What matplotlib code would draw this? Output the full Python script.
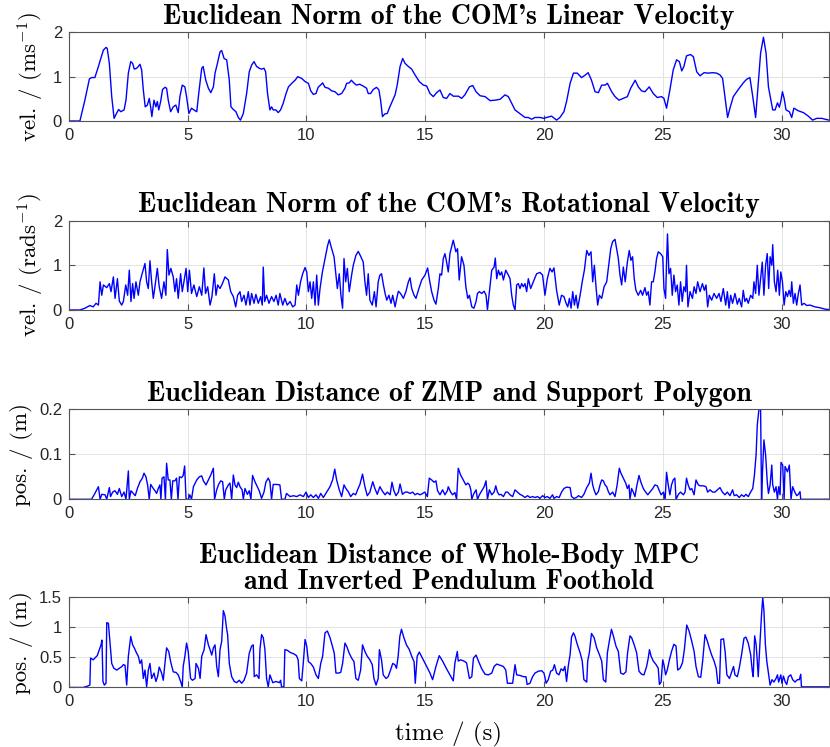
import numpy as np
import matplotlib.pyplot as plt
from matplotlib.ticker import FixedLocator, FormatStrFormatter

# fonts: LaTeX look for titles/labels, Helvetica look for tick labels
plt.rcParams['mathtext.fontset'] = 'cm'
plt.rcParams['axes.unicode_minus'] = False

# Data (time in s, value) -----------------------------------------------

lin_vel = [(0, 0), (0.46, 0), (0.67, 0.47), (0.86, 0.95), (0.95, 0.98), (1.09, 0.98), (1.24, 1.23),
           (1.3, 1.34), (1.45, 1.6), (1.56, 1.66), (1.61, 1.64), (1.7, 1.3), (1.8, 0.55), (1.9, 0.06),
           (2.0, 0.17), (2.09, 0.26), (2.18, 0.21), (2.32, 0.25), (2.4, 0.47), (2.5, 1.08), (2.6, 1.34),
           (2.68, 1.30), (2.75, 1.17), (2.85, 1.19), (2.92, 1.23), (2.99, 1.28), (3.06, 1.15), (3.13, 0.70),
           (3.21, 0.32), (3.3, 0.36), (3.38, 0.51), (3.44, 0.31), (3.49, 0.10), (3.58, 0.47), (3.66, 0.32),
           (3.72, 0.44), (3.78, 0.25), (3.86, 0.44), (3.94, 0.71), (4.04, 0.76), (4.11, 0.74), (4.18, 0.47),
           (4.28, 0.21), (4.39, 0.32), (4.5, 0.36), (4.6, 0.19), (4.67, 0.55), (4.77, 0.81), (4.88, 0.77),
           (4.95, 0.55), (5.05, 0.17), (5.16, 0.29), (5.26, 0.25), (5.38, 0.21), (5.48, 0.70), (5.59, 1.19),
           (5.65, 1.23), (5.76, 0.92), (5.87, 0.74), (5.97, 0.64), (6.08, 0.77), (6.15, 1.08), (6.25, 1.30),
           (6.36, 1.56), (6.43, 1.59), (6.53, 1.41), (6.64, 1.38), (6.75, 0.92), (6.82, 0.32), (6.92, 0.26),
           (7.03, 0.21), (7.13, 0.08), (7.22, 0.02), (7.34, 0.17), (7.48, 0.62), (7.59, 1.11), (7.69, 1.26),
           (7.79, 1.34), (7.9, 1.23), (8.01, 1.19), (8.11, 1.17), (8.21, 1.19), (8.28, 1.11), (8.36, 0.62),
           (8.46, 0.25), (8.53, 0.32), (8.6, 0.25), (8.71, 0.25), (8.81, 0.19), (8.91, 0.25), (9.02, 0.40),
           (9.14, 0.62), (9.24, 0.77), (9.38, 0.85), (9.52, 0.92), (9.63, 1.0), (9.8, 0.96), (9.94, 0.89),
           (10.08, 0.85), (10.18, 0.68), (10.29, 0.60), (10.4, 0.62), (10.49, 0.76), (10.59, 0.81),
           (10.68, 0.86), (10.78, 0.76), (10.92, 0.74), (11.06, 0.68), (11.2, 0.66), (11.34, 0.59),
           (11.48, 0.62), (11.62, 0.74), (11.69, 0.85), (11.8, 0.86), (11.89, 0.92), (11.99, 0.86),
           (12.1, 0.81), (12.24, 0.83), (12.38, 0.79), (12.53, 0.74), (12.6, 0.62), (12.7, 0.62),
           (12.81, 0.71), (12.95, 0.76), (13.05, 0.70), (13.12, 0.47), (13.2, 0.10), (13.3, 0.16),
           (13.4, 0.17), (13.51, 0.32), (13.63, 0.47), (13.73, 0.59), (13.82, 0.81), (13.94, 1.23),
           (14.05, 1.41), (14.15, 1.30), (14.29, 1.23), (14.43, 1.17), (14.57, 1.04), (14.75, 0.89),
           (14.92, 0.81), (15.06, 0.79), (15.2, 0.62), (15.34, 0.55), (15.48, 0.64), (15.62, 0.70),
           (15.76, 0.53), (15.9, 0.51), (16.04, 0.62), (16.18, 0.56), (16.4, 0.56), (16.53, 0.51),
           (16.67, 0.59), (16.86, 0.77), (17.0, 0.80), (17.14, 0.66), (17.31, 0.57), (17.52, 0.55),
           (17.73, 0.46), (17.94, 0.47), (18.15, 0.49), (18.36, 0.59), (18.5, 0.55), (18.64, 0.40),
           (18.78, 0.25), (19.0, 0.16), (19.2, 0.08), (19.34, 0.08), (19.48, 0.04), (19.62, 0.08),
           (19.83, 0.08), (20.0, 0.06), (20.11, 0.08), (20.32, 0.11), (20.53, 0.02), (20.67, 0.08),
           (20.84, 0.21), (20.95, 0.44), (21.1, 0.85), (21.24, 1.08), (21.4, 1.08), (21.58, 0.98),
           (21.72, 1.03), (21.86, 1.09), (22.0, 0.92), (22.15, 0.66), (22.29, 0.64), (22.43, 0.81),
           (22.57, 0.81), (22.67, 0.85), (22.85, 0.66), (22.99, 0.55), (23.16, 0.47), (23.34, 0.51),
           (23.51, 0.55), (23.65, 0.74), (23.84, 0.92), (23.97, 0.77), (24.11, 0.68), (24.25, 0.66),
           (24.43, 0.77), (24.6, 0.62), (24.77, 0.53), (24.95, 0.55), (25.05, 0.51), (25.16, 0.29),
           (25.3, 0.70), (25.44, 1.15), (25.58, 1.38), (25.7, 1.34), (25.8, 1.13), (25.89, 1.23),
           (26.0, 1.47), (26.17, 1.50), (26.29, 1.45), (26.43, 1.11), (26.57, 1.02), (26.74, 1.09),
           (26.92, 1.08), (27.1, 1.09), (27.27, 1.08), (27.41, 1.04), (27.52, 0.96), (27.62, 0.55),
           (27.73, 0.08), (27.83, 0.29), (27.97, 0.55), (28.18, 0.71), (28.39, 0.86), (28.53, 0.94),
           (28.67, 0.98), (28.79, 0.55), (28.91, 0.08), (29.02, 0.85), (29.12, 1.53), (29.24, 1.89),
           (29.35, 1.53), (29.45, 0.77), (29.63, 0.25), (29.73, 0.25), (29.83, 0.41), (29.91, 0.31),
           (29.97, 0.44), (30.04, 0.66), (30.11, 0.51), (30.19, 0.25), (30.33, 0.21), (30.43, 0.08),
           (30.52, 0.29), (30.71, 0.23), (30.92, 0.19), (31.13, 0.11), (31.31, 0.02), (31.48, 0.06),
           (31.69, 0.06), (32.0, 0.02)]

rot_vel = [(0, 0), (0.46, 0), (0.67, 0.04), (0.88, 0.10), (1.02, 0.07), (1.14, 0.15), (1.24, 0.11),
           (1.31, 0.63), (1.38, 0.33), (1.45, 0.56), (1.59, 0.50), (1.7, 0.59), (1.77, 0.41), (1.87, 0.74),
           (1.94, 0.26), (2.04, 0.70), (2.12, 0.20), (2.22, 0.11), (2.29, 0.19), (2.39, 0.56), (2.47, 0.33),
           (2.54, 0.89), (2.61, 0.19), (2.68, 0.59), (2.74, 0.26), (2.82, 0.63), (2.92, 0.33), (2.99, 0.63),
           (3.1, 0.85), (3.2, 1.04), (3.27, 0.63), (3.34, 0.48), (3.41, 1.10), (3.48, 0.63), (3.55, 0.26),
           (3.62, 0.52), (3.72, 0.93), (3.8, 0.52), (3.9, 0.26), (4.0, 0.63), (4.08, 0.33), (4.14, 1.35),
           (4.21, 0.78), (4.29, 0.93), (4.39, 0.74), (4.46, 0.41), (4.53, 0.70), (4.6, 0.26), (4.7, 0.81),
           (4.77, 0.41), (4.84, 0.63), (4.93, 0.93), (5.0, 0.41), (5.07, 0.89), (5.16, 0.37), (5.26, 0.56),
           (5.38, 0.30), (5.49, 0.52), (5.59, 0.33), (5.68, 0.94), (5.75, 0.37), (5.84, 0.52), (5.94, 0.11),
           (6.02, 0.30), (6.12, 0.81), (6.19, 0.33), (6.26, 0.56), (6.36, 0.48), (6.46, 0.59), (6.57, 0.74),
           (6.71, 0.67), (6.81, 0.41), (6.92, 0.30), (7.02, 0.07), (7.1, 0.33), (7.2, 0.41), (7.27, 0.19),
           (7.37, 0.33), (7.45, 0.11), (7.55, 0.41), (7.62, 0.11), (7.69, 0.37), (7.79, 0.15), (7.87, 0.35),
           (7.97, 0.15), (8.07, 0.30), (8.14, 0.11), (8.18, 0.96), (8.24, 0.19), (8.32, 0.33), (8.42, 0.15),
           (8.53, 0.30), (8.63, 0.19), (8.72, 0.33), (8.81, 0.11), (8.88, 0.37), (9.0, 0.11), (9.09, 0.26),
           (9.19, 0.11), (9.31, 0.19), (9.42, 0.07), (9.52, 0.11), (9.59, 0.56), (9.66, 0.33), (9.75, 0.63),
           (9.84, 0.81), (9.94, 0.95), (10.01, 0.85), (10.08, 0.41), (10.15, 0.63), (10.22, 0.26),
           (10.29, 0.63), (10.36, 0.11), (10.43, 0.78), (10.5, 0.11), (10.57, 0.48), (10.67, 0.85),
           (10.78, 1.15), (10.89, 1.44), (10.96, 1.57), (11.06, 1.37), (11.16, 1.19), (11.24, 0.78),
           (11.3, 0.48), (11.38, 0.81), (11.45, 0.33), (11.52, 0.04), (11.58, 1.15), (11.65, 0.63),
           (11.72, 0.93), (11.8, 0.41), (11.9, 0.78), (11.97, 1.0), (12.08, 1.22), (12.18, 1.31),
           (12.29, 1.19), (12.39, 1.07), (12.46, 0.63), (12.53, 0.33), (12.6, 0.81), (12.67, 0.22),
           (12.77, 0.11), (12.86, 0.41), (12.93, 0.07), (13.02, 0.63), (13.09, 0.78), (13.16, 0.81),
           (13.24, 0.56), (13.31, 0.37), (13.38, 0.22), (13.47, 0.33), (13.56, 0.15), (13.63, 0.33),
           (13.73, 0.07), (13.8, 0.26), (13.87, 0.42), (13.96, 0.37), (14.08, 0.26), (14.19, 0.42),
           (14.29, 0.63), (14.36, 0.72), (14.43, 0.48), (14.53, 0.33), (14.61, 0.26), (14.71, 0.44),
           (14.85, 0.67), (14.99, 0.78), (15.1, 0.94), (15.17, 0.70), (15.27, 0.41), (15.37, 0.22),
           (15.45, 0.13), (15.55, 0.48), (15.62, 0.81), (15.69, 0.78), (15.76, 1.15), (15.83, 1.26),
           (15.9, 1.07), (15.97, 0.85), (16.04, 1.26), (16.18, 1.56), (16.29, 1.30), (16.36, 1.37),
           (16.43, 0.67), (16.53, 1.19), (16.63, 1.0), (16.71, 0.52), (16.79, 0.26), (16.86, 0.33),
           (16.96, 0.07), (17.05, 0.04), (17.14, 0.19), (17.2, 0.37), (17.28, 0.41), (17.38, 0.37),
           (17.48, 0.42), (17.56, 0.33), (17.62, 0.01), (17.7, 0.41), (17.8, 0.89), (17.9, 0.96),
           (17.95, 1.16), (18.01, 0.70), (18.08, 0.89), (18.15, 0.78), (18.22, 0.85), (18.29, 0.67),
           (18.39, 0.89), (18.5, 0.78), (18.57, 0.70), (18.64, 0.33), (18.71, 0.11), (18.78, 0.0),
           (18.85, 0.56), (18.92, 0.59), (18.99, 0.48), (19.06, 0.59), (19.13, 0.52), (19.2, 0.59),
           (19.27, 0.41), (19.34, 0.70), (19.44, 0.48), (19.55, 0.63), (19.69, 0.81), (19.83, 0.84),
           (19.94, 0.78), (20.04, 0.33), (20.14, 0.70), (20.25, 0.93), (20.34, 0.85), (20.42, 0.94),
           (20.53, 0.44), (20.64, 0.11), (20.74, 0.33), (20.84, 0.30), (20.93, 0.15), (21.0, 0.07),
           (21.07, 0.26), (21.14, 0.04), (21.21, 0.41), (21.28, 0.11), (21.35, 0.33), (21.42, 0.04),
           (21.52, 0.33), (21.61, 0.63), (21.7, 0.89), (21.8, 1.33), (21.89, 1.22), (21.98, 1.30),
           (22.05, 0.63), (22.12, 1.0), (22.19, 0.52), (22.26, 0.11), (22.33, 0.33), (22.43, 0.26),
           (22.53, 0.52), (22.64, 0.63), (22.71, 0.93), (22.81, 1.37), (22.89, 1.53), (22.99, 1.58),
           (23.06, 1.37), (23.13, 1.15), (23.2, 0.78), (23.27, 0.56), (23.34, 0.96), (23.42, 0.63),
           (23.51, 1.07), (23.59, 1.33), (23.66, 1.11), (23.73, 1.19), (23.8, 0.70), (23.87, 0.44),
           (23.97, 0.33), (24.07, 0.44), (24.15, 0.33), (24.25, 0.50), (24.32, 0.33), (24.39, 0.41),
           (24.46, 0.11), (24.53, 0.63), (24.6, 0.63), (24.67, 0.85), (24.74, 1.15), (24.81, 1.30),
           (24.91, 1.26), (25.0, 1.19), (25.05, 0.48), (25.12, 0.26), (25.16, 1.07), (25.2, 1.70),
           (25.26, 0.81), (25.33, 0.93), (25.4, 0.33), (25.47, 0.78), (25.54, 0.41), (25.61, 0.56),
           (25.68, 0.11), (25.75, 0.63), (25.82, 0.19), (25.89, 0.52), (25.96, 0.41), (26.0, 1.0),
           (26.06, 0.07), (26.15, 0.41), (26.25, 0.26), (26.32, 0.52), (26.4, 0.37), (26.47, 0.63),
           (26.57, 0.41), (26.67, 0.59), (26.75, 0.44), (26.82, 0.56), (26.89, 0.07), (26.96, 0.33),
           (27.06, 0.22), (27.16, 0.37), (27.27, 0.26), (27.37, 0.37), (27.45, 0.19), (27.55, 0.48),
           (27.65, 0.11), (27.72, 0.41), (27.79, 0.04), (27.86, 0.33), (27.94, 0.15), (28.04, 0.37),
           (28.14, 0.13), (28.22, 0.26), (28.32, 0.07), (28.39, 0.44), (28.46, 0.19), (28.53, 0.26),
           (28.6, 0.15), (28.7, 0.33), (28.79, 0.26), (28.84, 0.63), (28.91, 0.37), (28.98, 1.0),
           (29.05, 0.33), (29.12, 0.70), (29.19, 1.07), (29.26, 0.33), (29.33, 1.0), (29.4, 1.26),
           (29.46, 0.48), (29.52, 1.19), (29.59, 1.0), (29.63, 1.46), (29.7, 0.63), (29.77, 0.41),
           (29.84, 0.89), (29.91, 0.33), (29.97, 0.85), (30.04, 0.63), (30.11, 0.11), (30.18, 0.41),
           (30.25, 0.30), (30.32, 0.44), (30.39, 0.30), (30.43, 0.63), (30.5, 0.15), (30.57, 0.37),
           (30.64, 0.11), (30.71, 0.37), (30.78, 0.56), (30.85, 0.11), (30.95, 0.15), (31.06, 0.10),
           (31.2, 0.11), (31.41, 0.07), (31.62, 0.05), (31.83, 0.02), (32.0, 0.01)]

zmp_dist = [(0, 0), (0.95, 0), (1.09, 0.013), (1.24, 0.028), (1.31, 0), (1.38, 0.011), (1.52, 0.01),
            (1.59, 0), (1.7, 0.026), (1.75, 0.006), (1.84, 0.016), (1.94, 0.019), (2.04, 0.011),
            (2.12, 0.024), (2.22, 0.006), (2.32, 0.016), (2.4, 0), (2.5, 0.063), (2.54, 0), (2.61, 0.019),
            (2.71, 0.013), (2.79, 0.008), (2.88, 0.024), (2.99, 0.039), (3.09, 0.047), (3.16, 0.058),
            (3.24, 0.05), (3.31, 0.032), (3.38, 0), (3.44, 0.033), (3.55, 0.024), (3.62, 0.019),
            (3.69, 0.013), (3.76, 0.024), (3.83, 0.032), (3.87, 0), (3.92, 0.047), (4.0, 0.05), (4.06, 0),
            (4.11, 0.08), (4.18, 0.043), (4.25, 0.043), (4.31, 0), (4.37, 0.041), (4.46, 0.041),
            (4.53, 0.047), (4.59, 0), (4.65, 0.05), (4.74, 0.048), (4.81, 0.053), (4.87, 0.074), (4.93, 0),
            (5.03, 0), (5.09, 0.01), (5.16, 0), (5.24, 0.028), (5.38, 0.043), (5.49, 0.05), (5.59, 0.052),
            (5.66, 0.041), (5.77, 0.032), (5.87, 0.043), (5.97, 0.054), (6.08, 0.069), (6.13, 0),
            (6.22, 0.021), (6.3, 0.033), (6.39, 0.041), (6.47, 0.039), (6.54, 0), (6.6, 0.021),
            (6.71, 0.032), (6.78, 0.036), (6.85, 0), (6.92, 0.054), (6.99, 0.032), (7.06, 0.026),
            (7.13, 0.038), (7.2, 0.028), (7.29, 0.021), (7.34, 0), (7.41, 0.024), (7.51, 0.011),
            (7.59, 0.019), (7.66, 0), (7.73, 0.053), (7.83, 0.039), (7.93, 0.028), (8.01, 0.019),
            (8.11, 0.002), (8.21, 0.016), (8.29, 0.038), (8.39, 0.047), (8.46, 0.039), (8.53, 0),
            (8.6, 0.033), (8.74, 0.033), (8.88, 0.032), (8.95, 0), (9.09, 0), (9.16, 0.013), (9.31, 0.006),
            (9.45, 0.008), (9.59, 0.006), (9.73, 0.01), (9.87, 0.006), (9.98, 0.016), (10.08, 0.004),
            (10.18, 0.01), (10.29, 0.004), (10.4, 0.01), (10.5, 0.002), (10.6, 0.013), (10.71, 0.004),
            (10.85, 0.016), (10.99, 0.028), (11.1, 0.043), (11.19, 0.067), (11.27, 0.043), (11.38, 0.021),
            (11.48, 0.006), (11.58, 0.032), (11.66, 0.024), (11.76, 0.017), (11.86, 0.006), (11.97, 0.013),
            (12.07, 0.01), (12.15, 0.021), (12.25, 0.033), (12.36, 0.056), (12.46, 0.028), (12.56, 0.008),
            (12.67, 0.016), (12.79, 0.039), (12.88, 0.024), (12.98, 0.011), (13.09, 0.028), (13.21, 0.017),
            (13.31, 0.01), (13.4, 0.016), (13.52, 0.01), (13.6, 0.038), (13.68, 0.019), (13.77, 0.008),
            (13.87, 0.016), (13.94, 0.034), (14.04, 0.011), (14.15, 0.016), (14.25, 0.016), (14.36, 0.013),
            (14.47, 0.016), (14.57, 0.01), (14.67, 0.013), (14.78, 0.01), (14.89, 0.013), (14.98, 0.016),
            (15.09, 0.006), (15.17, 0.047), (15.27, 0.043), (15.37, 0.038), (15.45, 0.041), (15.52, 0.019),
            (15.62, 0.01), (15.73, 0.021), (15.83, 0.01), (15.93, 0.019), (15.97, 0.028), (16.07, 0.016),
            (16.15, 0.01), (16.25, 0.015), (16.32, 0), (16.39, 0.069), (16.49, 0.054), (16.6, 0.043),
            (16.71, 0.032), (16.79, 0.036), (16.86, 0.032), (16.92, 0.021), (16.96, 0), (17.03, 0.011),
            (17.14, 0.021), (17.2, 0), (17.28, 0.01), (17.38, 0.019), (17.48, 0.028), (17.56, 0.041),
            (17.62, 0), (17.7, 0.021), (17.8, 0.01), (17.9, 0.016), (17.97, 0.03), (18.04, 0.016),
            (18.11, 0.01), (18.19, 0.011), (18.29, 0.006), (18.39, 0.016), (18.47, 0.016), (18.57, 0.01),
            (18.68, 0.006), (18.78, 0.021), (18.88, 0.016), (18.99, 0.011), (19.1, 0.008), (19.2, 0.004),
            (19.31, 0.008), (19.41, 0.004), (19.52, 0.006), (19.62, 0.004), (19.73, 0.006), (19.83, 0.002),
            (19.94, 0.008), (20.04, 0.004), (20.14, 0.006), (20.25, 0.002), (20.36, 0.01), (20.42, 0.002),
            (20.53, 0.006), (20.64, 0.004), (20.74, 0.016), (20.84, 0.024), (20.95, 0.027), (21.1, 0.026),
            (21.16, 0.006), (21.26, 0.002), (21.37, 0.004), (21.45, 0.008), (21.58, 0.004), (21.68, 0.011),
            (21.8, 0.026), (21.91, 0.036), (21.98, 0.058), (22.05, 0.032), (22.12, 0.019), (22.19, 0.01),
            (22.29, 0.017), (22.36, 0.032), (22.43, 0.043), (22.5, 0.041), (22.57, 0.032), (22.64, 0.028),
            (22.71, 0.017), (22.78, 0.01), (22.89, 0.016), (22.99, 0.006), (23.08, 0.032), (23.17, 0.069),
            (23.24, 0.058), (23.34, 0.047), (23.44, 0.036), (23.51, 0.024), (23.58, 0.032), (23.62, 0),
            (23.69, 0.024), (23.76, 0.016), (23.83, 0.006), (23.9, 0.028), (24.0, 0.053), (24.08, 0.038),
            (24.18, 0.024), (24.28, 0.016), (24.37, 0.01), (24.46, 0.016), (24.58, 0.024), (24.67, 0.032),
            (24.77, 0.03), (24.86, 0.019), (24.93, 0.01), (25.03, 0.016), (25.1, 0), (25.16, 0.06),
            (25.23, 0.032), (25.3, 0.01), (25.37, 0.032), (25.44, 0.043), (25.51, 0.047), (25.56, 0),
            (25.66, 0.011), (25.75, 0.016), (25.87, 0.01), (25.94, 0.016), (26.0, 0.047), (26.07, 0.032),
            (26.15, 0.021), (26.22, 0.024), (26.32, 0.01), (26.4, 0.043), (26.5, 0.032), (26.57, 0.03),
            (26.71, 0.03), (26.82, 0.028), (26.89, 0.016), (26.99, 0.021), (27.1, 0.016), (27.2, 0.016),
            (27.3, 0.021), (27.41, 0.026), (27.51, 0.016), (27.62, 0.01), (27.72, 0.016), (27.83, 0.008),
            (27.94, 0.021), (28.01, 0.008), (28.11, 0.01), (28.22, 0.004), (28.32, 0.01), (28.42, 0.006),
            (28.5, 0.011), (28.6, 0.006), (28.7, 0.016), (28.79, 0.024), (28.86, 0.054), (28.93, 0.099),
            (28.98, 0.165), (29.05, 0.2), (29.12, 0.2), (29.16, 0), (29.2, 0.061), (29.26, 0.132),
            (29.33, 0.099), (29.4, 0.039), (29.45, 0.013), (29.52, 0.032), (29.59, 0.076), (29.63, 0.032),
            (29.7, 0.016), (29.77, 0.028), (29.83, 0), (29.88, 0.028), (29.94, 0.01), (29.98, 0.082),
            (30.05, 0.076), (30.11, 0), (30.15, 0.073), (30.25, 0.061), (30.33, 0.076), (30.4, 0),
            (30.47, 0.028), (30.56, 0.016), (30.64, 0.008), (30.71, 0.011), (30.78, 0.017), (30.81, 0),
            (32.0, 0)]

mpc_dist = [(0, 0), (0.6, 0), (0.77, 0.02), (0.88, 0.04), (0.91, 0.49), (1.02, 0.46), (1.09, 0.49),
            (1.19, 0.53), (1.28, 0.63), (1.35, 0.71), (1.39, 0.79), (1.43, 0.10), (1.49, 0.04),
            (1.56, 0.07), (1.59, 1.08), (1.66, 1.07), (1.73, 0.74), (1.8, 0.40), (1.89, 0.32), (2.01, 0.29),
            (2.12, 0.32), (2.23, 0.35), (2.29, 0.38), (2.36, 0.37), (2.43, 0.04), (2.5, 0.52), (2.6, 0.85),
            (2.68, 0.71), (2.75, 0.66), (2.85, 0.57), (2.92, 0.52), (2.99, 0.40), (3.06, 0.46), (3.13, 0.15),
            (3.2, 0.29), (3.27, 0.01), (3.34, 0.29), (3.41, 0.40), (3.48, 0.15), (3.58, 0.24), (3.66, 0.10),
            (3.73, 0.18), (3.8, 0.34), (3.9, 0.24), (3.97, 0.12), (4.04, 0.40), (4.11, 0.66), (4.2, 0.60),
            (4.28, 0.43), (4.39, 0.26), (4.51, 0.25), (4.6, 0.21), (4.7, 0.10), (4.77, 0.01), (4.81, 0.35),
            (4.88, 0.52), (4.95, 0.74), (5.02, 0.60), (5.12, 0.15), (5.2, 0.12), (5.31, 0.15), (5.35, 0.40),
            (5.45, 0.32), (5.52, 0.15), (5.59, 0.52), (5.69, 0.63), (5.77, 0.88), (5.87, 0.71), (5.94, 0.63),
            (6.01, 0.54), (6.08, 0.66), (6.15, 0.71), (6.22, 0.35), (6.29, 0.18), (6.36, 0.63), (6.43, 0.77),
            (6.5, 1.28), (6.57, 1.19), (6.64, 0.97), (6.68, 0.88), (6.75, 0.40), (6.85, 0.18), (6.96, 0.10),
            (7.06, 0.08), (7.17, 0.12), (7.27, 0.07), (7.37, 0.12), (7.48, 0.24), (7.59, 0.57), (7.69, 0.69),
            (7.76, 0.71), (7.8, 0.18), (7.9, 0.21), (8.0, 0.15), (8.04, 0.63), (8.11, 0.88), (8.18, 0.83),
            (8.25, 0.63), (8.32, 0.15), (8.39, 0.01), (8.46, 0.21), (8.58, 0.08), (8.72, 0.10), (8.86, 0.08),
            (8.91, 0.12), (8.95, 0.01), (9.05, 0.01), (9.09, 0.63), (9.19, 0.62), (9.33, 0.58), (9.47, 0.56),
            (9.58, 0.53), (9.65, 0.46), (9.7, 0.15), (9.8, 0.11), (9.87, 0.43), (9.94, 0.80), (10.01, 0.69),
            (10.08, 0.43), (10.18, 0.40), (10.29, 0.34), (10.4, 0.21), (10.5, 0.15), (10.6, 0.40),
            (10.68, 0.52), (10.78, 0.91), (10.88, 0.94), (10.99, 0.83), (11.09, 0.69), (11.17, 0.57),
            (11.24, 0.24), (11.34, 0.24), (11.44, 0.25), (11.52, 0.40), (11.62, 0.74), (11.69, 0.69),
            (11.8, 0.57), (11.9, 0.49), (12.0, 0.43), (12.08, 0.15), (12.18, 0.12), (12.28, 0.29),
            (12.36, 0.71), (12.46, 0.60), (12.56, 0.52), (12.67, 0.46), (12.77, 0.38), (12.84, 0.15),
            (12.93, 0.04), (13.02, 0.15), (13.07, 0.63), (13.16, 0.46), (13.23, 0.21), (13.35, 0.15),
            (13.44, 0.18), (13.54, 0.29), (13.63, 0.40), (13.72, 0.38), (13.79, 0.32), (13.86, 0.52),
            (13.93, 0.85), (14.0, 0.97), (14.1, 0.83), (14.21, 0.71), (14.33, 0.63), (14.43, 0.52),
            (14.53, 0.43), (14.58, 0.07), (14.66, 0.52), (14.75, 0.59), (14.92, 0.46), (15.06, 0.35),
            (15.2, 0.24), (15.31, 0.13), (15.45, 0.35), (15.59, 0.53), (15.73, 0.44), (15.9, 0.31),
            (16.04, 0.21), (16.18, 0.11), (16.25, 0.41), (16.35, 0.60), (16.39, 0.44), (16.49, 0.46),
            (16.63, 0.44), (16.74, 0.41), (16.86, 0.15), (16.96, 0.18), (17.03, 0.49), (17.14, 0.54),
            (17.24, 0.44), (17.38, 0.31), (17.52, 0.22), (17.66, 0.21), (17.8, 0.24), (17.9, 0.35),
            (18.01, 0.39), (18.15, 0.37), (18.29, 0.35), (18.39, 0.29), (18.46, 0.07), (18.57, 0.07),
            (18.68, 0.07), (18.78, 0.38), (18.85, 0.21), (18.99, 0.20), (19.13, 0.18), (19.24, 0.18),
            (19.29, 0.05), (19.41, 0.07), (19.52, 0.18), (19.62, 0.24), (19.76, 0.27), (19.9, 0.28),
            (20.0, 0.24), (20.09, 0.07), (20.18, 0.13), (20.28, 0.27), (20.37, 0.29), (20.44, 0.38),
            (20.53, 0.24), (20.63, 0.21), (20.72, 0.31), (20.81, 0.28), (20.88, 0.35), (20.95, 0.10),
            (21.02, 0.35), (21.1, 0.55), (21.16, 0.84), (21.24, 0.91), (21.3, 0.86), (21.4, 0.72),
            (21.52, 0.58), (21.61, 0.44), (21.68, 0.13), (21.8, 0.09), (21.84, 0.44), (21.91, 0.58),
            (22.0, 0.90), (22.11, 0.83), (22.22, 0.66), (22.33, 0.55), (22.43, 0.44), (22.5, 0.13),
            (22.6, 0.09), (22.67, 0.58), (22.75, 0.77), (22.84, 0.97), (22.92, 0.86), (23.03, 0.69),
            (23.13, 0.60), (23.23, 0.24), (23.34, 0.22), (23.45, 0.26), (23.52, 0.58), (23.62, 0.86),
            (23.69, 0.83), (23.79, 0.72), (23.9, 0.58), (24.0, 0.27), (24.11, 0.22), (24.21, 0.21),
            (24.32, 0.35), (24.39, 0.49), (24.44, 0.63), (24.51, 0.52), (24.6, 0.44), (24.72, 0.38),
            (24.81, 0.32), (24.86, 0.05), (24.93, 0.09), (25.0, 0.46), (25.05, 0.38), (25.12, 0.21),
            (25.19, 0.29), (25.28, 0.46), (25.37, 0.60), (25.47, 0.72), (25.56, 0.69), (25.63, 0.29),
            (25.73, 0.32), (25.83, 0.41), (25.91, 0.63), (26.01, 1.04), (26.11, 0.94), (26.22, 0.77),
            (26.32, 0.60), (26.4, 0.35), (26.5, 0.18), (26.6, 0.17), (26.68, 0.44), (26.78, 0.88),
            (26.88, 0.77), (26.96, 0.66), (27.06, 0.54), (27.16, 0.44), (27.25, 0.32), (27.32, 0.07),
            (27.39, 0.07), (27.45, 0.80), (27.56, 0.81), (27.63, 0.58), (27.7, 0.21), (27.81, 0.15),
            (27.91, 0.27), (27.98, 0.35), (28.04, 0.21), (28.14, 0.18), (28.22, 0.32), (28.32, 0.55),
            (28.42, 0.82), (28.5, 0.84), (28.6, 0.74), (28.7, 0.55), (28.77, 0.27), (28.81, 0.18),
            (28.87, 0.86), (28.93, 0.72), (28.98, 0.44), (29.02, 0.18), (29.09, 0.72), (29.16, 1.22),
            (29.21, 1.50), (29.26, 1.28), (29.32, 0.72), (29.38, 0.44), (29.45, 0.24), (29.52, 0.04),
            (29.6, 0.13), (29.68, 0.09), (29.77, 0.15), (29.83, 0.21), (29.88, 0.09), (29.97, 0.21),
            (30.02, 0.07), (30.08, 0.19), (30.16, 0.09), (30.22, 0.05), (30.29, 0.18), (30.39, 0.21),
            (30.47, 0.13), (30.57, 0.09), (30.67, 0.13), (30.75, 0.13), (30.81, 0.22), (30.84, 0.01),
            (32.0, 0.01)]

titles = ["Euclidean Norm of the COM's Linear Velocity",
          "Euclidean Norm of the COM's Rotational Velocity",
          "Euclidean Distance of ZMP and Support Polygon",
          "Euclidean Distance of Whole-Body MPC\nand Inverted Pendulum Foothold"]
ylabels = [r"vel. / (ms$^{-1}$)", r"vel. / (rads$^{-1}$)", "pos. / (m)", "pos. / (m)"]
yticks = [[0, 1, 2], [0, 1, 2], [0, 0.1, 0.2], [0, 0.5, 1, 1.5]]
xticks = [0, 5, 10, 15, 20, 25, 30]
series = [lin_vel, rot_vel, zmp_dist, mpc_dist]

# axes boxes in figure fractions (left, bottom, width, height)
boxes = [(0.0831, 0.838, 0.9157, 0.1187),
         (0.0831, 0.585, 0.9157, 0.1198),
         (0.0831, 0.3316, 0.9157, 0.1205),
         (0.0831, 0.0797, 0.9157, 0.1205)]


# Plot ------------------------------------------------------------

fig = plt.figure(figsize=(8.3, 7.47), dpi=100)

for i in range(4):
    ax = fig.add_axes(boxes[i])
    data = np.array(series[i])
    ax.plot(data[:, 0], data[:, 1], color='#0000ff', lw=1.0)

    ax.set_xlim(0, 32)
    ax.set_ylim(yticks[i][0], yticks[i][-1])
    ax.xaxis.set_major_locator(FixedLocator(xticks))
    ax.yaxis.set_major_locator(FixedLocator(yticks[i]))
    ax.yaxis.set_major_formatter(FormatStrFormatter('%g'))

    ax.grid(True, color='#e3e3e3', lw=0.7)
    ax.set_axisbelow(True)
    for s in ax.spines.values():
        s.set_color('#555555')
        s.set_linewidth(0.8)
    ax.tick_params(direction='in', top=True, right=True, length=4, width=0.8,
                   color='#555555', labelsize=12, pad=5)
    for lab in ax.get_xticklabels() + ax.get_yticklabels():
        lab.set_family('Liberation Sans')
        lab.set_color('#262626')

    ax.set_title(titles[i], family='cmb10', fontsize=20, pad=6, linespacing=1.0)
    ax.set_ylabel(ylabels[i], family='cmr10', fontsize=16.5, labelpad=4.5)

ax.set_xlabel("time / (s)", family='cmr10', fontsize=18, labelpad=9)

plt.savefig('out.png', dpi=100)
